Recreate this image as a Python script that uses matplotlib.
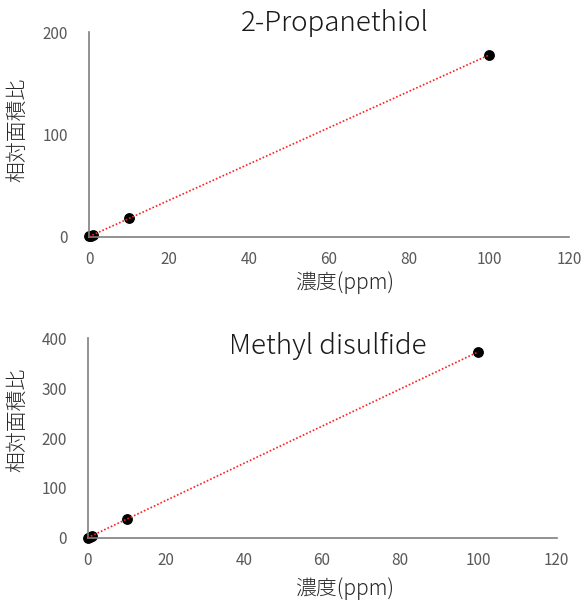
import matplotlib
matplotlib.use("Agg")
import matplotlib.pyplot as plt
import numpy as np

plt.rcParams['font.family'] = ['Noto Sans CJK JP', 'DejaVu Sans']

# concentration (ppm) and relative area ratio
conc = [0.1, 0.5, 1, 10, 100]
propanethiol = [0.18, 0.9, 1.8, 18, 177.5]
disulfide = [0.37, 1.9, 3.7, 37, 373]

titles = ["2-Propanethiol", "Methyl disulfide"]
yticks = [[0, 100, 200], [0, 100, 200, 300, 400]]
xticks = [0, 20, 40, 60, 80, 100, 120]
xlabel = "濃度(ppm)"
ylabel = "相対面積比"

grey = "#595959"

fig = plt.figure(figsize=(5.84, 6.05), dpi=100)
rects = [[0.1524, 0.6088, 0.822, 0.3383], [0.150, 0.1112, 0.803, 0.3296]]
series = [propanethiol, disulfide]
title_pos = [(0.574, 0.962), (0.562, 0.428)]
xlab_pos = [(0.533, -0.17), (0.549, -0.2)]
ylab_pos = [(-0.127, 0.52), (-0.127, 0.59)]

for i in range(2):
    ax = fig.add_axes(rects[i])
    y = np.array(series[i])
    x = np.array(conc)
    k, b = np.polyfit(x, y, 1)
    xf = np.array([0, 100])
    ax.plot(xf, k * xf + b, linestyle=(0, (1, 1.2)), color="#ff2020", lw=1.2, zorder=3)
    ax.scatter(x, y, s=46, color="black", zorder=2, clip_on=False)

    ax.set_xlim(0, 120)
    ax.set_ylim(0, yticks[i][-1])
    ax.set_xticks(xticks)
    ax.set_yticks(yticks[i])
    ax.tick_params(axis="x", length=0, labelsize=11, labelcolor=grey, pad=10)
    ax.tick_params(axis="y", length=0, labelsize=11, labelcolor=grey, pad=15)
    for s in ["top", "right"]:
        ax.spines[s].set_visible(False)
    for s in ["left", "bottom"]:
        ax.spines[s].set_color("#7f7f7f")
        ax.spines[s].set_linewidth(1.2)
    ax.set_xlabel(xlabel, fontsize=15, color="#262626", fontweight="light")
    ax.xaxis.set_label_coords(*xlab_pos[i])
    ax.set_ylabel(ylabel, fontsize=15, color="#262626", fontweight="light")
    ax.yaxis.set_label_coords(*ylab_pos[i])
    fig.text(title_pos[i][0], title_pos[i][1], titles[i], fontsize=20,
             color="#1a1a1a", ha="center", va="center", fontweight="light")

fig.savefig("out.png", dpi=100)
